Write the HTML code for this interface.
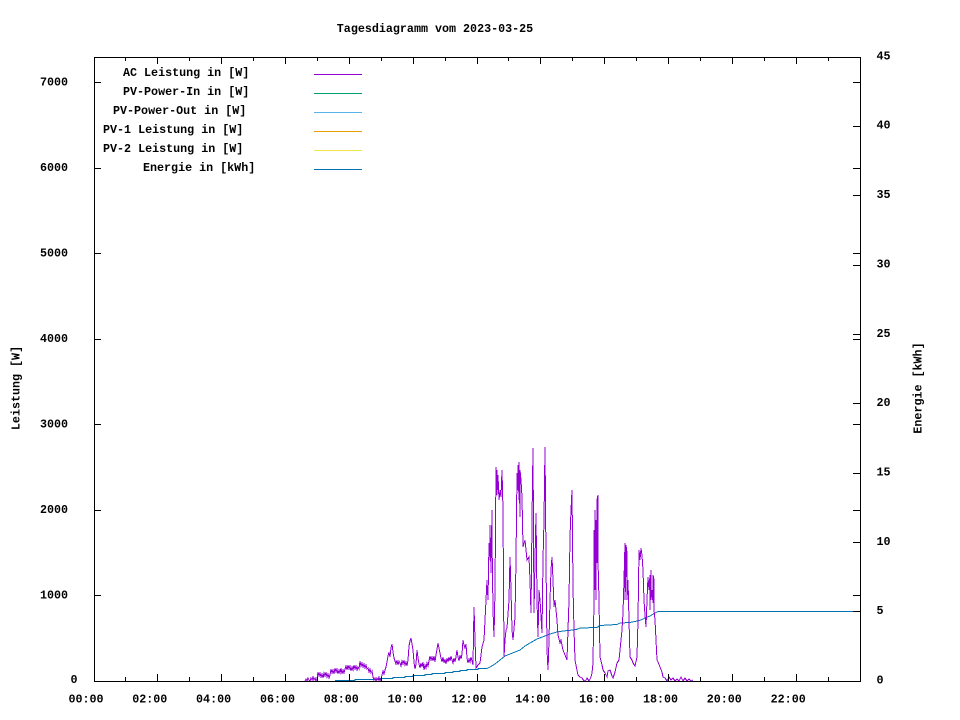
<!DOCTYPE html>
<html>
<head>
<meta charset="utf-8">
<style>
html,body{margin:0;padding:0;background:#fff;}
svg{display:block;}
text{font-family:"Liberation Mono","DejaVu Sans Mono",monospace;font-weight:bold;font-size:11.7px;fill:#000;}
</style>
</head>
<body>
<svg width="960" height="720" viewBox="0 0 960 720" xmlns="http://www.w3.org/2000/svg">
<rect x="0" y="0" width="960" height="720" fill="#fff"/>

<!-- title -->
<text x="435" y="32" text-anchor="middle">Tagesdiagramm vom 2023-03-25</text>

<!-- axis titles -->
<text transform="translate(19.5,388) rotate(-90)" text-anchor="middle">Leistung [W]</text>
<text transform="translate(921.5,388) rotate(-90)" text-anchor="middle">Energie [kWh]</text>

<!-- data: Energie -->
<polyline fill="none" stroke="#0072b2" stroke-width="1" shape-rendering="crispEdges"
points="335,680.5 355,680.5 355,679.5 380,679.5 380,678.5 393,678.5 393,677.5 405,677.5 405,676.5 413,676.5 413,675.5 425,675.5 425,674.5 432,674.5 432,673.5 445,673.5 445,672.5 453,672.5 453,671.5 460,671.5 460,670.5 467,670.5 467,669.5 478,669.5 478,668.5 487,668.5 490,667 495,664 500,660 505,656 510,654 515,652 520,650 525,646 530,643 537,639 545,636 550,634 557,632 563,631 573,630 578,629 580,628 597,627.5 600,625.5 617,624.5 620,623 630,622.5 637,621 641,620 645,618 650,616 655,613 658,611.5 860,611.5"/>

<!-- data: AC Leistung -->
<polyline fill="none" stroke="#9400d3" stroke-width="1" shape-rendering="crispEdges"
points="305,681 306,679 307,681 308,678 309,680 310,681 311,678 312,680 313,677 314,680 315,678 316,681 317,679 318,672 319,676 320,673 321,677 322,674 323,678 324,673 325,676 326,672 327,677 328,674 329,678 330,675 331,669 332,673 333,670 334,674 335,668 336,672 337,669 338,674 339,670 340,673 341,668 342,674 343,670 344,673 345,669 346,666 347,670 348,665 349,669 350,666 351,671 352,667 353,670 354,665 355,669 356,666 357,670 358,667 359,669 360,661 361,666 362,663 363,667 364,664 365,668 366,665 367,669 368,668 369,672 370,669 371,673 372,671 373,677 374,680 375,678 376,681 377,678 378,680 379,677 380,681 381,679 382,675 383,671 384,674 385,670 386,667 387,662 388,656 389,652 390,657 391,648 392,644 393,652 394,658 395,661 396,664 397,660 398,665 399,661 400,663 401,666 402,661 403,664 404,660 405,665 406,662 407,666 408,660 409,646 410,641 411,638 412,644 413,650 414,662 415,669 416,664 417,650 418,658 419,664 420,668 421,663 422,667 423,662 424,670 425,665 426,668 427,663 428,666 429,661 430,656 431,660 432,657 433,661 434,656 435,662 436,655 437,649 438,643 439,648 440,653 441,658 442,662 443,657 444,663 445,659 446,664 447,658 448,662 449,657 450,661 451,656 452,660 453,663 454,658 455,662 456,657 457,650 458,657 459,661 460,655 461,659 462,654 463,640 464,645 465,648 466,644 467,658 468,663 469,659 470,662 471,657 472,661 473,665 474,607 475,640 476,668 478,665 480,663 482,647 484,640 485,620 487,580 488,600 489,543 490,560 490,525 491,573 492,510 492,540 493,610 494,637 495,590 496,467 497,495 497,470 498,490 498,475 499,500 500,490 501,497 502,470 503,510 504,657 505,640 506,630 507,628 509,600 510,557 511,590 512,630 513,640 515,617 516,560 517,473 518,490 518,465 519,500 519,462 520,517 520,470 521,480 522,497 523,547 525,540 527,560 529,557 530,580 531,613 532,520 533,448 534,613 535,560 536,513 537,600 538,637 539,590 540,600 542,633 543,560 544,520 545,447 546,560 547,650 548,670 549,640 550,600 551,570 552,557 553,580 554,607 555,600 557,620 558,635 560,643 561,640 563,650 565,655 567,660 569,600 570,537 571,510 572,490 573,587 574,630 575,660 577,670 578,675 580,677 582,678 584,681 586,680 587,678 589,681 591,677 592,673 593,663 594,600 594,530 595,590 595,510 596,600 596,520 597,563 597,500 598,495 598,560 599,600 600,657 602,665 603,670 605,673 607,677 608,671 610,670 612,676 613,678 615,672 617,663 619,660 620,650 621,640 622,630 623,613 624,580 625,543 625,600 626,570 626,545 627,553 627,600 628,580 629,620 630,657 632,660 633,663 635,666 637,657 638,620 639,550 640,560 641,548 642,555 643,570 644,600 645,615 646,627 647,600 648,577 649,590 650,575 650,610 651,570 651,600 652,590 653,603 653,575 654,580 654,610 655,620 656,640 657,660 658,662 660,667 662,672 663,677 665,678 667,681 669,677 671,680 673,678 675,681 677,679 679,681 681,677 683,681 685,678 687,681 689,679 691,681 693,680"/>

<!-- border -->
<rect x="94.5" y="57.5" width="766" height="624" fill="none" stroke="#000" stroke-width="1" shape-rendering="crispEdges"/>

<!-- ticks -->
<g stroke="#000" stroke-width="1" shape-rendering="crispEdges">
<path d="M157.5,681V674 M221.5,681V674 M285.5,681V674 M349.5,681V674 M413.5,681V674 M477.5,681V674 M540.5,681V674 M604.5,681V674 M668.5,681V674 M732.5,681V674 M796.5,681V674"/>
<path d="M157.5,57V64 M221.5,57V64 M285.5,57V64 M349.5,57V64 M413.5,57V64 M477.5,57V64 M540.5,57V64 M604.5,57V64 M668.5,57V64 M732.5,57V64 M796.5,57V64"/>
<path d="M125.5,681V677 M189.5,681V677 M253.5,681V677 M317.5,681V677 M381.5,681V677 M445.5,681V677 M508.5,681V677 M572.5,681V677 M636.5,681V677 M700.5,681V677 M764.5,681V677 M828.5,681V677"/>
<path d="M125.5,57V61 M189.5,57V61 M253.5,57V61 M317.5,57V61 M381.5,57V61 M445.5,57V61 M508.5,57V61 M572.5,57V61 M636.5,57V61 M700.5,57V61 M764.5,57V61 M828.5,57V61"/>
<path d="M94,595.5H101 M94,510.5H101 M94,424.5H101 M94,339.5H101 M94,253.5H101 M94,168.5H101 M94,82.5H101"/>
<path d="M860,595.5H853 M860,510.5H853 M860,424.5H853 M860,339.5H853 M860,253.5H853 M860,168.5H853 M860,82.5H853"/>
<path d="M860,611.5H853 M860,542.5H853 M860,473.5H853 M860,403.5H853 M860,334.5H853 M860,265.5H853 M860,195.5H853 M860,126.5H853"/>
</g>

<!-- left tick labels -->
<text x="70.5" y="683">0</text>
<text x="40" y="598.5">1000</text>
<text x="40" y="513">2000</text>
<text x="40" y="427.5">3000</text>
<text x="40" y="342">4000</text>
<text x="40" y="256.5">5000</text>
<text x="40" y="171">6000</text>
<text x="40" y="85.5">7000</text>

<!-- right tick labels -->
<text x="876.5" y="683.5">0</text>
<text x="876.5" y="614">5</text>
<text x="876.5" y="545">10</text>
<text x="876.5" y="475.5">15</text>
<text x="876.5" y="406">20</text>
<text x="876.5" y="337">25</text>
<text x="876.5" y="267.5">30</text>
<text x="876.5" y="198">35</text>
<text x="876.5" y="128.5">40</text>
<text x="876.5" y="59.5">45</text>

<!-- x tick labels -->
<g text-anchor="middle">
<text x="86" y="702.5">00:00</text>
<text x="149.8" y="702.5">02:00</text>
<text x="213.6" y="702.5">04:00</text>
<text x="277.5" y="702.5">06:00</text>
<text x="341.3" y="702.5">08:00</text>
<text x="405.2" y="702.5">10:00</text>
<text x="469" y="702.5">12:00</text>
<text x="532.8" y="702.5">14:00</text>
<text x="596.7" y="702.5">16:00</text>
<text x="660.5" y="702.5">18:00</text>
<text x="724.3" y="702.5">20:00</text>
<text x="788.2" y="702.5">22:00</text>
</g>

<!-- legend -->
<text x="123" y="76">AC Leistung in [W]</text>
<text x="123" y="95">PV-Power-In in [W]</text>
<text x="113" y="114">PV-Power-Out in [W]</text>
<text x="103" y="133">PV-1 Leistung in [W]</text>
<text x="103" y="152">PV-2 Leistung in [W]</text>
<text x="143" y="171">Energie in [kWh]</text>
<g stroke-width="1" shape-rendering="crispEdges">
<line x1="314" y1="74.5" x2="362" y2="74.5" stroke="#9400d3"/>
<line x1="314" y1="93.5" x2="362" y2="93.5" stroke="#009e73"/>
<line x1="314" y1="112.5" x2="362" y2="112.5" stroke="#56b4e9"/>
<line x1="314" y1="131.5" x2="362" y2="131.5" stroke="#e69f00"/>
<line x1="314" y1="150.5" x2="362" y2="150.5" stroke="#f0e442"/>
<line x1="314" y1="169.5" x2="362" y2="169.5" stroke="#0072b2"/>
</g>
</svg>
</body>
</html>
